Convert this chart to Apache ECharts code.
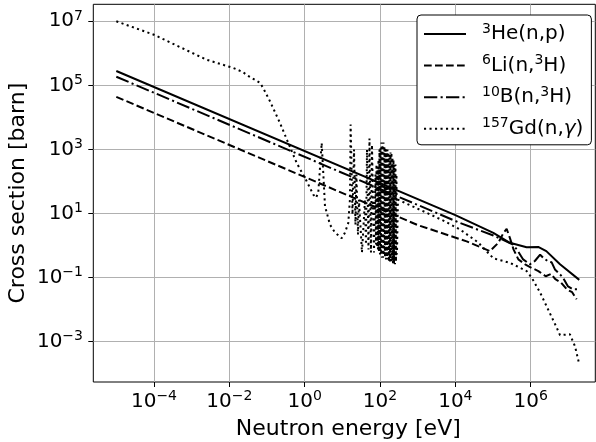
<!DOCTYPE html>
<html><head><meta charset="utf-8">
<script src="https://cdn.jsdelivr.net/npm/echarts@6/dist/echarts.min.js"></script>
<style>html,body{margin:0;padding:0;background:#fff}#c{width:596px;height:442px}</style>
</head><body><div id="c"></div>
<script>
// tick exponents (labels are 10^n)
const xTickExp = [-4, -2, 0, 2, 4, 6];
const yTickExp = [-3, -1, 1, 3, 5, 7];
const seriesNames = ['3He(n,p)', '6Li(n,3H)', '10B(n,3H)', '157Gd(n,γ)'];

// 3He(n,p): energy [eV], cross section [barn]
const he3E = [1e-5, 1e4, 1.02e5, 2.8e5, 7.8e5, 1.58e6, 2.6e6, 6.0e6, 1.95e7];
const he3S = [2.8e5, 8.9, 2.5, 1.22, 0.89, 0.91, 0.67, 0.26, 0.085];

// 6Li(n,3H)
const li6E = [1e-5, 1e3, 2.0e4, 8.3e4, 1.38e5, 1.9e5, 2.3e5, 2.8e5, 3.5e5, 4.7e5, 7.1e5, 1.07e6, 1.6e6, 2.5e6, 3.5e6, 4.5e6, 6.3e6, 9.1e6, 1.26e7, 1.66e7];
const li6S = [4.37e4, 4.37, 1.35, 0.67, 1.22, 2.5, 3.3, 1.74, 0.76, 0.37, 0.26, 0.20, 0.16, 0.11, 0.13, 0.089, 0.071, 0.043, 0.035, 0.021];

// 10B(n,3H)
const b10E = [1e-5, 1.32e4, 1.02e5, 3.4e5, 4.6e5, 6.3e5, 9.5e5, 1.29e6, 1.78e6, 2.14e6, 2.9e6, 3.6e6, 4.4e6, 6.0e6, 7.2e6, 9.8e6, 1.32e7, 1.7e7];
const b10S = [1.86e5, 5.1, 2.06, 1.08, 0.67, 0.37, 0.26, 0.33, 0.52, 0.42, 0.32, 0.30, 0.18, 0.126, 0.10, 0.053, 0.043, 0.043];

// 157Gd(n,gamma)
const gdE = [1e-5, 1e-4, 2.5e-3, 1.27e-2, 2.3e-2, 2.9e-2, 6.5e-2, 7.9e-2, 0.12, 0.22, 0.367, 0.614, 1.13, 1.69, 2.0, 2.3, 2.83, 3.46, 4.7, 6.3, 9.6, 11.7, 14.4, 15.9, 16.6,
  18.6, 20.4, 22.3, 23.7, 26.0, 27.6, 33.2, 39.9, 42.4, 45.1, 49.4, 52.5, 57.5, 61.2, 69.2,
  75.8, 78.1, 80.5, 83.1, 85.6, 88.3, 91.0, 93.8, 96.8, 99.7, 102.9, 106.1, 109.3, 112.7, 116.2, 119.8, 123.6, 127.4, 131.3, 135.5, 139.6, 143.9,
  148.4, 153.0, 157.8, 162.7, 167.7, 172.9, 178.3, 183.8, 189.6, 195.4, 201.5, 207.8, 214.2, 220.9, 227.7, 234.8, 242.0, 249.6, 257.3, 265.3, 273.5, 282.0, 300,
  1.74e3, 4.8e3, 1.32e4, 4.0e4, 1.02e5, 2.8e5, 7.8e5, 1.07e6, 1.78e6, 3.2e6, 4.9e6, 6.0e6, 1.1e7, 1.5e7, 1.95e7];
const gdS = [1.0e7, 3.8e6, 6.3e5, 3.5e5, 2.6e5, 2.1e5, 1.2e5, 8.3e4, 3.2e4, 6.8e3, 1.6e3, 380, 102, 39, 31, 45, 1600, 17, 4.5, 2.6, 1.7, 2.5, 5.1, 27, 6000,
  9.3, 990, 4.5, 164, 2.2, 27, 0.61, 27, 1.08, 990, 0.75, 2200, 0.61, 1400, 0.61,
  164, 1.08, 337, 0.87, 236, 0.75, 480, 0.65, 990, 0.53, 1140, 0.53, 1640, 0.42, 1420, 0.42, 1640, 0.49, 1230, 0.42, 1140, 0.37,
  990, 0.42, 990, 0.37, 800, 0.32, 690, 0.32, 800, 0.32, 800, 0.30, 560, 0.28, 480, 0.26, 337, 0.26, 337, 0.32, 164, 0.53, 27,
  10.5, 6.0, 3.2, 1.26, 0.40, 0.29, 0.16, 0.099, 0.034, 7.9e-3, 2.75e-3, 1.6e-3, 1.7e-3, 7.2e-4, 1.95e-4];

const toLog = (E, S) => E.map((e, i) => [Math.log10(e), Math.log10(S[i])]);
const FONT = 'DejaVu Sans';
const richBase = {
  b: { fontFamily: FONT, fontSize: 20, lineHeight: 24, color: '#000' },
  s: { fontFamily: FONT, fontSize: 14, lineHeight: 15, verticalAlign: 'top', color: '#000' },
  f: { fontFamily: FONT, fontSize: 14, lineHeight: 15, verticalAlign: 'top', color: '#000', padding: [0, 0, 0, 11] },
  i: { fontFamily: FONT, fontSize: 20, lineHeight: 24, fontStyle: 'italic', color: '#000' }
};
const legendRich = {
  '3He(n,p)': '{f|3}{b|He(n,p)}',
  '6Li(n,3H)': '{f|6}{b|Li(n,}{s|3}{b|H)}',
  '10B(n,3H)': '{f|10}{b|B(n,}{s|3}{b|H)}',
  '157Gd(n,γ)': '{f|157}{b|Gd(n,}{i|γ}{b|)}'
};
const expLabel = v => '{b|10}{s|' + (v < 0 ? '\u2212' + (-v) : v) + '}';

const series = [
  { name: seriesNames[0], data: toLog(he3E, he3S), dash: 'solid' },
  { name: seriesNames[1], data: toLog(li6E, li6S), dash: [7.7, 3.3] },
  { name: seriesNames[2], data: toLog(b10E, b10S), dash: [13.3, 3.3, 2.1, 3.3] },
  { name: seriesNames[3], data: toLog(gdE, gdS), dash: [2.1, 3.4] }
].map(s => ({
  name: s.name, type: 'line', data: s.data, symbol: 'none', showSymbol: false,
  lineStyle: { color: '#000', width: 2, type: s.dash, cap: 'butt' },
  itemStyle: { color: '#000' }, emphasis: { disabled: true }
}));

const chart = echarts.init(document.getElementById('c'), null, { renderer: 'canvas' });
chart.setOption({
  animation: false,
  backgroundColor: '#fff',
  grid: { left: 93.3, top: 4.3, right: 0.7, bottom: 60, show: true, borderColor: '#000', borderWidth: 1, backgroundColor: 'transparent', containLabel: false, outerBoundsMode: 'none' },
  xAxis: {
    type: 'value', min: -5.611, max: 7.715,
    axisLine: { show: false, onZero: false },
    axisTick: { show: true, length: 5, customValues: xTickExp, lineStyle: { color: '#000', width: 1 } },
    axisLabel: { customValues: xTickExp, margin: 7.6, formatter: expLabel, rich: richBase },
    splitLine: { show: true, lineStyle: { color: '#b0b0b0', width: 1 } },
    name: 'Neutron energy [eV]', nameLocation: 'middle', nameGap: 30,
    nameTextStyle: { fontFamily: FONT, fontSize: 22, lineHeight: 26, color: '#000', padding: [0, 0, 0, 8] }
  },
  yAxis: {
    type: 'value', min: -4.258, max: 7.53,
    axisLine: { show: false, onZero: false },
    axisTick: { show: true, length: 5, customValues: yTickExp, lineStyle: { color: '#000', width: 1 } },
    axisLabel: { customValues: yTickExp, margin: 10.3, formatter: expLabel, rich: richBase },
    splitLine: { show: true, lineStyle: { color: '#b0b0b0', width: 1 } },
    name: 'Cross section [barn]', nameLocation: 'middle', nameGap: 62, nameMoveOverlap: false,
    nameTextStyle: { fontFamily: FONT, fontSize: 22, lineHeight: 26, color: '#000' }
  },
  legend: {
    orient: 'vertical', left: 417, top: 15,
    padding: [7, 8, 6, 6], itemGap: 9.6, itemWidth: 42, itemHeight: 24,
    backgroundColor: '#fff', borderColor: '#000', borderWidth: 1, borderRadius: 4,
    selectedMode: false,
    itemStyle: { opacity: 0 },
    formatter: n => legendRich[n],
    textStyle: { rich: richBase },
    data: seriesNames
  },
  series
});
</script></body></html>
